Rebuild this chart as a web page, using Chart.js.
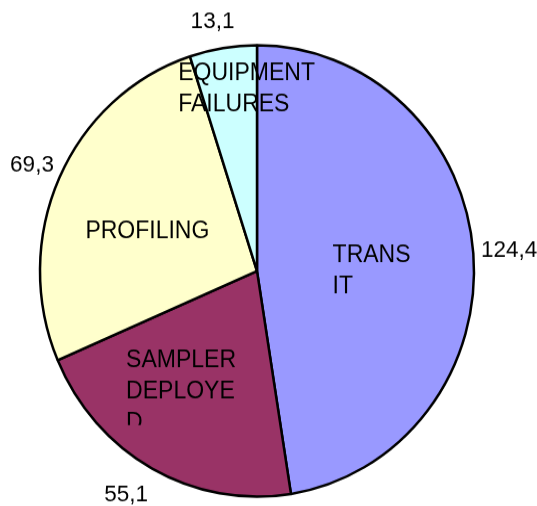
<!DOCTYPE html>
<html><head><meta charset="utf-8">
<script src="https://cdn.jsdelivr.net/npm/chart.js@4/dist/chart.umd.min.js"></script>
<style>
html,body{margin:0;padding:0;background:#fff;overflow:hidden;}
#wrap{width:537px;height:506px;overflow:hidden;position:relative;background:#fff;}
#c{transform:scaleY(1.04);transform-origin:0 0;display:block;}
</style></head><body>
<div id="wrap"><canvas id="c" width="537" height="487"></canvas></div>
<script>
const categories = ['TRANSIT', 'SAMPLER DEPLOYED', 'PROFILING', 'EQUIPMENT FAILURES'];
const values = [124.4, 55.1, 69.3, 13.1];
const valueLabels = ['124,4', '55,1', '69,3', '13,1'];
const categoryLines = [['TRANS', 'IT'], ['SAMPLER', 'DEPLOYE', 'D'], ['PROFILING'], ['EQUIPMENT', 'FAILURES']];
const colors = ['#9999FF', '#993366', '#FFFFCC', '#CCFFFF'];
// inner label placement: angle (deg clockwise from top), radius fraction, clip below block centre
const innerAngle = [90, 213.2, 288.9, 356.6];
const innerFrac = [0.528, 0.639, 0.534, 0.808];
const innerClip = [null, 32, null, null];
// outer value label placement: gap beyond the rim, angle nudge (deg)
const outerGap = [36, 35, 30, 27];
const outerNudge = [0, 2.4, 0, -1.5];

const labelPlugin = {
  id: 'sliceLabels',
  afterDatasetsDraw(chart) {
    const ctx = chart.ctx;
    const meta = chart.getDatasetMeta(0);
    ctx.save();
    ctx.fillStyle = '#000';
    meta.data.forEach((arc, i) => {
      const p = arc.getProps(['x', 'y', 'startAngle', 'endAngle', 'outerRadius'], true);
      const mid = (p.startAngle + p.endAngle) / 2 + outerNudge[i] * Math.PI / 180;
      ctx.font = '22.5px "Liberation Sans", Arial, sans-serif';
      ctx.textAlign = 'center';
      ctx.textBaseline = 'middle';
      const ro = p.outerRadius + outerGap[i];
      ctx.fillText(valueLabels[i], p.x + ro * Math.cos(mid), p.y + ro * Math.sin(mid));

      const a = innerAngle[i] * Math.PI / 180 - Math.PI / 2;
      const ri = p.outerRadius * innerFrac[i];
      const cx = p.x + ri * Math.cos(a), cy = p.y + ri * Math.sin(a);
      ctx.font = '23px "Liberation Sans", Arial, sans-serif';
      const lines = categoryLines[i];
      const w = Math.max(...lines.map(l => ctx.measureText(l).width));
      const lh = 30;
      const left = cx - w / 2;
      const top = cy - lh * lines.length / 2;
      ctx.save();
      if (innerClip[i] != null) {
        ctx.beginPath();
        ctx.rect(left - 5, top - 5, w + 10, cy + innerClip[i] - (top - 5));
        ctx.clip();
      }
      ctx.textAlign = 'left';
      lines.forEach((l, k) => ctx.fillText(l, left, top + lh * (k + 0.5)));
      ctx.restore();
    });
    ctx.restore();
  }
};

new Chart(document.getElementById('c'), {
  type: 'pie',
  data: {
    labels: categories,
    datasets: [{ data: values, backgroundColor: colors, borderColor: '#000', borderWidth: 2.5 }]
  },
  options: {
    responsive: false,
    animation: false,
    devicePixelRatio: 1,
    layout: { padding: { left: 38.75, right: 61.75, top: 42.35, bottom: 8.15 } },
    plugins: { legend: { display: false }, tooltip: { enabled: false } }
  },
  plugins: [labelPlugin]
});
</script>
</body></html>
